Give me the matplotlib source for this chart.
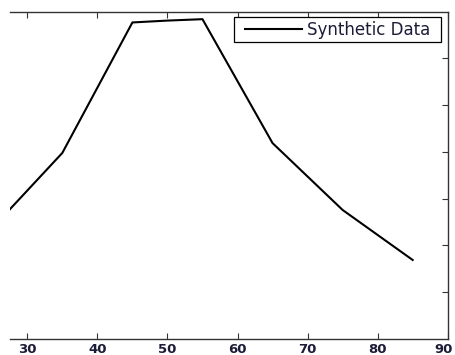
import matplotlib
matplotlib.use('Agg')
import matplotlib.pyplot as plt
from matplotlib.path import Path
from matplotlib.transforms import ScaledTranslation

# synthetic data (y in tick units)
x_vals = [25, 35, 45, 50, 55, 65, 75, 85]
y_vals = [2.37, 3.98, 6.77, 6.81, 6.84, 4.19, 2.76, 1.69]

x_ticks = [30, 40, 50, 60, 70, 80, 90]
y_ticks = [1, 2, 3, 4, 5, 6]

plt.rcParams['font.family'] = ['DejaVu Sans']
text_color = '#1c1c38'

W, H = 455, 355
fig = plt.figure(figsize=(W / 100, H / 100), dpi=100)

# the screenshot is cropped on the left, so the axes starts mid-range
left_px, right_px, top_px, bottom_px = 10, 447.7, 11.7, 339
ax = fig.add_axes([left_px / W, (H - bottom_px) / H,
                   (right_px - left_px) / W, (bottom_px - top_px) / H])

ax.plot(x_vals, y_vals, color='black', linewidth=1.5, label='Synthetic Data')

ax.set_xlim(27.53, 90)
ax.set_ylim(0, 7)
ax.set_xticks(x_ticks)
ax.set_yticks(y_ticks)
ax.tick_params(direction='in', length=4, width=0.8, top=True, right=True,
               left=False, labelleft=False, labelsize=9.5,
               labelcolor=text_color, color='#333333', pad=3)
labels = ax.get_xticklabels()
for lab in labels:
    lab.set_fontweight('bold')
# last label sits on the figure edge; nudge it in so it is not cut
labels[-1].set_transform(labels[-1].get_transform()
                         + ScaledTranslation(-4 / 100, 0, fig.dpi_scale_trans))
ax.spines['left'].set_visible(False)
for s in ['top', 'right', 'bottom']:
    ax.spines[s].set_color('#333333')
    ax.spines[s].set_linewidth(1.0)

leg = ax.legend(loc='upper right', bbox_to_anchor=(0.967, 0.983),
                fontsize=12, frameon=True, fancybox=False,
                borderaxespad=0, handlelength=3.4, handletextpad=0.3,
                borderpad=0.2, labelcolor=text_color)


# MATLAB style legend box: wider side padding than top/bottom
def wide_box(x0, y0, width, height, mutation_size):
    padx = 0.48 * mutation_size
    x0 -= padx
    x1 = x0 + width + 2 * padx
    y1 = y0 + height
    return Path([(x0, y0), (x1, y0), (x1, y1), (x0, y1), (x0, y0)], closed=True)


leg.legendPatch.set_boxstyle(wide_box)
leg.get_frame().set_edgecolor('black')
leg.get_frame().set_linewidth(0.9)
leg.get_frame().set_alpha(1)

plt.savefig('out.png', dpi=100)
